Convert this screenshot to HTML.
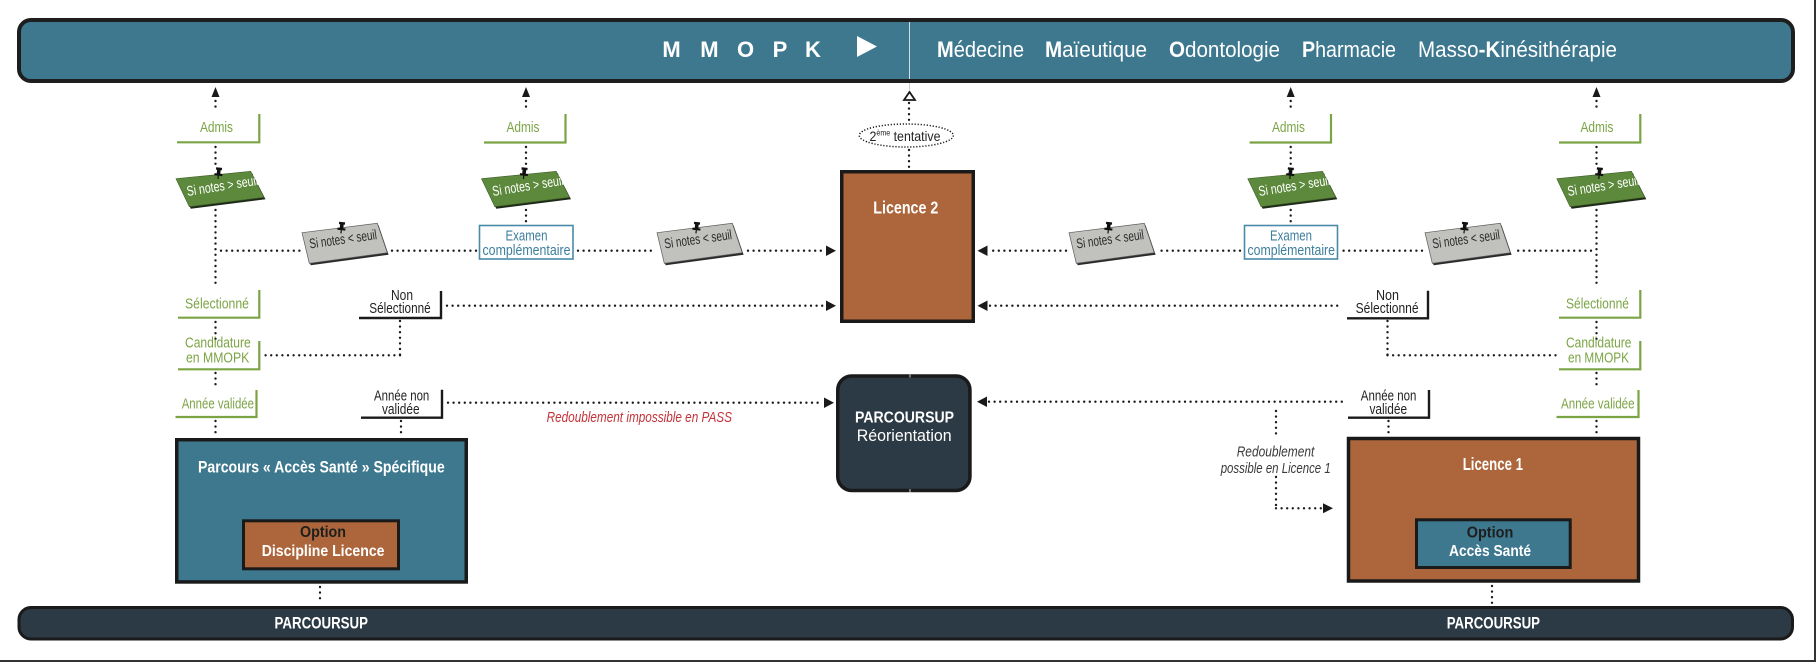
<!DOCTYPE html>
<html><head><meta charset="utf-8"><style>
html,body{margin:0;padding:0;background:#fff;}
svg{display:block;}
text{font-family:"Liberation Sans",sans-serif;}
.d{stroke:#1a1a1a;stroke-width:2.4;stroke-linecap:round;stroke-dasharray:0 5.6;fill:none}
.gl{stroke:#7ba445;stroke-width:2.2;fill:none}
.bl{stroke:#1a1a1a;stroke-width:2.4;fill:none}
.gt{fill:#7ba445;font-size:15px}
.bt{fill:#222;font-size:15px}
.et{fill:#3c7e9c;font-size:15px}
.w{fill:#fff}
.wb{fill:#fff;font-weight:bold}
</style></head><body>
<svg width="1816" height="662" viewBox="0 0 1816 662" xmlns="http://www.w3.org/2000/svg">
<rect x="0" y="0" width="1816" height="662" fill="#fff"/>
<!-- frame -->
<rect x="1814" y="0" width="2" height="662" fill="#333"/>
<rect x="0" y="660" width="1816" height="2" fill="#333"/>

<!-- TOP BAR -->
<rect x="19" y="20" width="1774" height="61" rx="12" fill="#3e788f" stroke="#1e1e1e" stroke-width="4"/>
<line x1="909.5" y1="22" x2="909.5" y2="79" stroke="#d5dde0" stroke-width="1"/>
<g class="wb" font-size="22" text-anchor="middle">
<text x="671.5" y="57" class="wb">M</text>
<text x="709.4" y="57" class="wb">M</text>
<text x="745.5" y="57" class="wb">O</text>
<text x="780" y="57" class="wb">P</text>
<text x="813" y="57" class="wb">K</text>
</g>
<polygon points="857,36 877,46.5 857,57" fill="#fff"/>
<g class="w" font-size="22">
<text x="937" y="57" class="w" textLength="87" lengthAdjust="spacingAndGlyphs"><tspan font-weight="bold">M</tspan>édecine</text>
<text x="1045" y="57" class="w" textLength="102" lengthAdjust="spacingAndGlyphs"><tspan font-weight="bold">M</tspan>aïeutique</text>
<text x="1169" y="57" class="w" textLength="111" lengthAdjust="spacingAndGlyphs"><tspan font-weight="bold">O</tspan>dontologie</text>
<text x="1302" y="57" class="w" textLength="94" lengthAdjust="spacingAndGlyphs"><tspan font-weight="bold">P</tspan>harmacie</text>
<text x="1418" y="57" class="w" textLength="199" lengthAdjust="spacingAndGlyphs">Masso<tspan font-weight="bold">-K</tspan>inésithérapie</text>
</g>

<!-- BOTTOM BAR -->
<rect x="19" y="607.5" width="1773.5" height="31.5" rx="12" fill="#2c3a45" stroke="#1a1a1a" stroke-width="3"/>
<text x="274.5" y="628.3" class="wb" font-size="16.5" textLength="93.5" lengthAdjust="spacingAndGlyphs">PARCOURSUP</text>
<text x="1446.7" y="628.3" class="wb" font-size="16.5" textLength="93.3" lengthAdjust="spacingAndGlyphs">PARCOURSUP</text>

<!-- ARROW HEADS UP -->
<g fill="#1a1a1a">
<polygon points="211.5,97 219.5,97 215.5,87"/>
<polygon points="522,97 530,97 526,87"/>
<polygon points="1286.7,97 1294.7,97 1290.7,87"/>
<polygon points="1592.5,97 1600.5,97 1596.5,87"/>
</g>

<!-- VERTICAL DOTTED LINES -->
<g class="d">
<line x1="215.5" y1="101" x2="215.5" y2="112"/>
<line x1="215.5" y1="147" x2="215.5" y2="166"/>
<line x1="215.5" y1="210" x2="215.5" y2="288"/>
<line x1="215.5" y1="322" x2="215.5" y2="339"/>
<line x1="215.5" y1="373" x2="215.5" y2="388"/>
<line x1="215.5" y1="421" x2="215.5" y2="437"/>

<line x1="526" y1="101" x2="526" y2="112"/>
<line x1="526" y1="147" x2="526" y2="166"/>
<line x1="526" y1="210" x2="526" y2="223"/>

<line x1="1290.7" y1="101" x2="1290.7" y2="112"/>
<line x1="1290.7" y1="147" x2="1290.7" y2="166"/>
<line x1="1290.7" y1="210" x2="1290.7" y2="223"/>

<line x1="1596.5" y1="101" x2="1596.5" y2="112"/>
<line x1="1596.5" y1="147" x2="1596.5" y2="166"/>
<line x1="1596.5" y1="210" x2="1596.5" y2="288"/>
<line x1="1596.5" y1="322" x2="1596.5" y2="339"/>
<line x1="1596.5" y1="373" x2="1596.5" y2="388"/>
<line x1="1596.5" y1="421" x2="1596.5" y2="437"/>

<!-- center -->
<line x1="909" y1="103" x2="909" y2="123"/>
<line x1="909" y1="150" x2="909" y2="169"/>

<!-- horizontal y=250.7 left -->
<line x1="221" y1="250.7" x2="300" y2="250.7"/>
<line x1="392" y1="250.7" x2="476" y2="250.7"/>
<line x1="578" y1="250.7" x2="654" y2="250.7"/>
<line x1="748" y1="250.7" x2="824" y2="250.7"/>
<!-- right -->
<line x1="1591" y1="250.7" x2="1513" y2="250.7"/>
<line x1="1422" y1="250.7" x2="1341" y2="250.7"/>
<line x1="1240" y1="250.7" x2="1158" y2="250.7"/>
<line x1="1066" y1="250.7" x2="990" y2="250.7"/>

<!-- non selectionne -->
<line x1="447" y1="305.7" x2="824" y2="305.7"/>
<line x1="400" y1="321" x2="400" y2="355.3"/>
<line x1="400" y1="355.3" x2="264" y2="355.3"/>
<line x1="990" y1="305.7" x2="1342" y2="305.7"/>
<line x1="1387.5" y1="321" x2="1387.5" y2="355.3"/>
<line x1="1387.5" y1="355.3" x2="1557" y2="355.3"/>

<!-- annee non validee -->
<line x1="448" y1="402.7" x2="822" y2="402.7"/>
<line x1="401" y1="421" x2="401" y2="437"/>
<line x1="989" y1="401.7" x2="1343" y2="401.7"/>
<line x1="1388.5" y1="421" x2="1388.5" y2="436"/>

<!-- redoublement -->
<line x1="1276" y1="411" x2="1276" y2="437"/>
<line x1="1276" y1="477" x2="1276" y2="508.3"/>
<line x1="1276" y1="508.3" x2="1321" y2="508.3"/>

<!-- to bottom bar -->
<line x1="320" y1="587" x2="320" y2="603"/>
<line x1="1492" y1="586" x2="1492" y2="603"/>
</g>

<!-- horizontal arrowheads -->
<g fill="#1a1a1a">
<polygon points="826,245.5 836,250.7 826,256"/>
<polygon points="987.5,245.5 977.5,250.7 987.5,256"/>
<polygon points="826,300.5 836,305.7 826,311"/>
<polygon points="987.5,300.5 977.5,305.7 987.5,311"/>
<polygon points="824,397.5 834,402.7 824,408"/>
<polygon points="987,396.5 977,401.7 987,407"/>
<polygon points="1323,503.3 1333,508.3 1323,513.3"/>
</g>

<!-- GREEN L LABELS -->
<g class="gl">
<polyline points="177,142.3 259.3,142.3 259.3,114"/>
<polyline points="484,142.5 565.5,142.5 565.5,114"/>
<polyline points="1249.6,142.5 1331,142.5 1331,114"/>
<polyline points="1559,142.5 1640.3,142.5 1640.3,114"/>
<polyline points="178,317.7 259.3,317.7 259.3,290"/>
<polyline points="1559,317.7 1640.3,317.7 1640.3,290"/>
<polyline points="178,369.3 259.3,369.3 259.3,341"/>
<polyline points="1559,369.3 1640.3,369.3 1640.3,341"/>
<polyline points="175.5,417 256.5,417 256.5,390"/>
<polyline points="1556.5,417 1638.5,417 1638.5,390"/>
</g>
<text x="200" y="132" class="gt" textLength="33" lengthAdjust="spacingAndGlyphs">Admis</text>
<text x="506.5" y="132" class="gt" textLength="33" lengthAdjust="spacingAndGlyphs">Admis</text>
<text x="1272" y="132" class="gt" textLength="33" lengthAdjust="spacingAndGlyphs">Admis</text>
<text x="1580.5" y="132" class="gt" textLength="33" lengthAdjust="spacingAndGlyphs">Admis</text>
<text x="185" y="308.5" class="gt" textLength="64" lengthAdjust="spacingAndGlyphs">Sélectionné</text>
<text x="1566" y="308.5" class="gt" textLength="63" lengthAdjust="spacingAndGlyphs">Sélectionné</text>
<text x="185" y="347.5" class="gt" textLength="65.7" lengthAdjust="spacingAndGlyphs">Candidature</text>
<text x="186" y="362.5" class="gt" textLength="63.3" lengthAdjust="spacingAndGlyphs">en MMOPK</text>
<text x="1566" y="347.5" class="gt" textLength="65.5" lengthAdjust="spacingAndGlyphs">Candidature</text>
<text x="1568" y="362.5" class="gt" textLength="61" lengthAdjust="spacingAndGlyphs">en MMOPK</text>
<text x="181.7" y="408.5" class="gt" textLength="72.3" lengthAdjust="spacingAndGlyphs">Année validée</text>
<text x="1561" y="408.5" class="gt" textLength="73.6" lengthAdjust="spacingAndGlyphs">Année validée</text>

<!-- BLACK L LABELS -->
<g class="bl">
<polyline points="359,318 441,318 441,291"/>
<polyline points="1347,318.3 1428,318.3 1428,290.7"/>
<polyline points="361,417.7 442,417.7 442,389.7"/>
<polyline points="1348,417.7 1429,417.7 1429,390"/>
</g>
<text x="391" y="300" class="bt" textLength="22" lengthAdjust="spacingAndGlyphs">Non</text>
<text x="369.3" y="313" class="bt" textLength="61.4" lengthAdjust="spacingAndGlyphs">Sélectionné</text>
<text x="1376" y="300" class="bt" textLength="23" lengthAdjust="spacingAndGlyphs">Non</text>
<text x="1355.6" y="313" class="bt" textLength="63" lengthAdjust="spacingAndGlyphs">Sélectionné</text>
<text x="374" y="400.3" class="bt" textLength="55.3" lengthAdjust="spacingAndGlyphs">Année non</text>
<text x="382" y="414" class="bt" textLength="37.6" lengthAdjust="spacingAndGlyphs">validée</text>
<text x="1360.8" y="400.3" class="bt" textLength="55.6" lengthAdjust="spacingAndGlyphs">Année non</text>
<text x="1369.5" y="414" class="bt" textLength="37.6" lengthAdjust="spacingAndGlyphs">validée</text>

<!-- EXAMEN BOXES -->
<rect x="479.5" y="225.5" width="93.5" height="33.5" fill="#fff" stroke="#4a8aa8" stroke-width="1.6"/>
<text x="505.5" y="240.5" class="et" textLength="42" lengthAdjust="spacingAndGlyphs">Examen</text>
<text x="482.5" y="255" class="et" textLength="88" lengthAdjust="spacingAndGlyphs">complémentaire</text>
<rect x="1244.5" y="225.5" width="93" height="33.5" fill="#fff" stroke="#4a8aa8" stroke-width="1.6"/>
<text x="1270" y="240.5" class="et" textLength="42" lengthAdjust="spacingAndGlyphs">Examen</text>
<text x="1247.5" y="255" class="et" textLength="87.5" lengthAdjust="spacingAndGlyphs">complémentaire</text>

<!-- GREEN NOTES -->
<g>
<polygon points="177.5,180.7 252.2,173.3 265.5,199.3 190.8,208.7" fill="#1f2a18"/>
<polygon points="176,178.7 250.7,171.3 264,197.3 189.3,206.7" fill="#5c893b" stroke="#3e5f27" stroke-width="0.6"/>
<text x="187.5" y="196" class="w" font-size="14" transform="rotate(-9 187.5 196)" textLength="72" lengthAdjust="spacingAndGlyphs">Si notes &gt; seuil</text>
<g transform="translate(218 178.5) rotate(6)" fill="#111"><rect x="-3" y="-11" width="6" height="2.4"/><rect x="-1.8" y="-9" width="3.6" height="4.5"/><rect x="-4" y="-5" width="8" height="2.2"/><rect x="-0.6" y="-3" width="1.2" height="3.5"/></g>
</g>
<g transform="translate(305.5 0)">
<polygon points="177.5,180.7 252.2,173.3 265.5,199.3 190.8,208.7" fill="#1f2a18"/>
<polygon points="176,178.7 250.7,171.3 264,197.3 189.3,206.7" fill="#5c893b" stroke="#3e5f27" stroke-width="0.6"/>
<text x="187.5" y="196" class="w" font-size="14" transform="rotate(-9 187.5 196)" textLength="72" lengthAdjust="spacingAndGlyphs">Si notes &gt; seuil</text>
<g transform="translate(218 178.5) rotate(6)" fill="#111"><rect x="-3" y="-11" width="6" height="2.4"/><rect x="-1.8" y="-9" width="3.6" height="4.5"/><rect x="-4" y="-5" width="8" height="2.2"/><rect x="-0.6" y="-3" width="1.2" height="3.5"/></g>
</g>
<g transform="translate(1071.8 0)">
<polygon points="177.5,180.7 252.2,173.3 265.5,199.3 190.8,208.7" fill="#1f2a18"/>
<polygon points="176,178.7 250.7,171.3 264,197.3 189.3,206.7" fill="#5c893b" stroke="#3e5f27" stroke-width="0.6"/>
<text x="187.5" y="196" class="w" font-size="14" transform="rotate(-9 187.5 196)" textLength="72" lengthAdjust="spacingAndGlyphs">Si notes &gt; seuil</text>
<g transform="translate(218 178.5) rotate(6)" fill="#111"><rect x="-3" y="-11" width="6" height="2.4"/><rect x="-1.8" y="-9" width="3.6" height="4.5"/><rect x="-4" y="-5" width="8" height="2.2"/><rect x="-0.6" y="-3" width="1.2" height="3.5"/></g>
</g>
<g transform="translate(1380.8 0)">
<polygon points="177.5,180.7 252.2,173.3 265.5,199.3 190.8,208.7" fill="#1f2a18"/>
<polygon points="176,178.7 250.7,171.3 264,197.3 189.3,206.7" fill="#5c893b" stroke="#3e5f27" stroke-width="0.6"/>
<text x="187.5" y="196" class="w" font-size="14" transform="rotate(-9 187.5 196)" textLength="72" lengthAdjust="spacingAndGlyphs">Si notes &gt; seuil</text>
<g transform="translate(218 178.5) rotate(6)" fill="#111"><rect x="-3" y="-11" width="6" height="2.4"/><rect x="-1.8" y="-9" width="3.6" height="4.5"/><rect x="-4" y="-5" width="8" height="2.2"/><rect x="-0.6" y="-3" width="1.2" height="3.5"/></g>
</g>

<!-- GRAY NOTES -->
<g>
<polygon points="303.3,234.7 378.6,225.3 388.6,254.7 310.6,265.3" fill="#2a2a2a"/>
<polygon points="302,232.7 377.3,223.3 387.3,252.7 309.3,263.3" fill="#c1c1be" stroke="#5a5a5a" stroke-width="0.7"/>
<text x="310" y="248.5" fill="#2a2a2a" font-size="14" transform="rotate(-8 310 248.5)" textLength="68" lengthAdjust="spacingAndGlyphs">Si notes &lt; seuil</text>
<g transform="translate(341 233) rotate(6)" fill="#111"><rect x="-3" y="-11" width="6" height="2.4"/><rect x="-1.8" y="-9" width="3.6" height="4.5"/><rect x="-4" y="-5" width="8" height="2.2"/><rect x="-0.6" y="-3" width="1.2" height="3.5"/></g>
</g>
<g transform="translate(355 0)">
<polygon points="303.3,234.7 378.6,225.3 388.6,254.7 310.6,265.3" fill="#2a2a2a"/>
<polygon points="302,232.7 377.3,223.3 387.3,252.7 309.3,263.3" fill="#c1c1be" stroke="#5a5a5a" stroke-width="0.7"/>
<text x="310" y="248.5" fill="#2a2a2a" font-size="14" transform="rotate(-8 310 248.5)" textLength="68" lengthAdjust="spacingAndGlyphs">Si notes &lt; seuil</text>
<g transform="translate(341 233) rotate(6)" fill="#111"><rect x="-3" y="-11" width="6" height="2.4"/><rect x="-1.8" y="-9" width="3.6" height="4.5"/><rect x="-4" y="-5" width="8" height="2.2"/><rect x="-0.6" y="-3" width="1.2" height="3.5"/></g>
</g>
<g transform="translate(767 0)">
<polygon points="303.3,234.7 378.6,225.3 388.6,254.7 310.6,265.3" fill="#2a2a2a"/>
<polygon points="302,232.7 377.3,223.3 387.3,252.7 309.3,263.3" fill="#c1c1be" stroke="#5a5a5a" stroke-width="0.7"/>
<text x="310" y="248.5" fill="#2a2a2a" font-size="14" transform="rotate(-8 310 248.5)" textLength="68" lengthAdjust="spacingAndGlyphs">Si notes &lt; seuil</text>
<g transform="translate(341 233) rotate(6)" fill="#111"><rect x="-3" y="-11" width="6" height="2.4"/><rect x="-1.8" y="-9" width="3.6" height="4.5"/><rect x="-4" y="-5" width="8" height="2.2"/><rect x="-0.6" y="-3" width="1.2" height="3.5"/></g>
</g>
<g transform="translate(1123 0)">
<polygon points="303.3,234.7 378.6,225.3 388.6,254.7 310.6,265.3" fill="#2a2a2a"/>
<polygon points="302,232.7 377.3,223.3 387.3,252.7 309.3,263.3" fill="#c1c1be" stroke="#5a5a5a" stroke-width="0.7"/>
<text x="310" y="248.5" fill="#2a2a2a" font-size="14" transform="rotate(-8 310 248.5)" textLength="68" lengthAdjust="spacingAndGlyphs">Si notes &lt; seuil</text>
<g transform="translate(341 233) rotate(6)" fill="#111"><rect x="-3" y="-11" width="6" height="2.4"/><rect x="-1.8" y="-9" width="3.6" height="4.5"/><rect x="-4" y="-5" width="8" height="2.2"/><rect x="-0.6" y="-3" width="1.2" height="3.5"/></g>
</g>

<!-- CENTER: hollow arrow + ellipse -->
<polygon points="904,100 915,100 909.5,92" fill="#fff" stroke="#1a1a1a" stroke-width="1.8" stroke-linejoin="miter"/>
<line x1="909.5" y1="83" x2="909.5" y2="91" stroke="#c9cfd2" stroke-width="1"/>
<ellipse cx="906.3" cy="135.5" rx="47" ry="11.5" fill="#fff" stroke="#1a1a1a" stroke-width="1.5" stroke-dasharray="1.2 1.8"/>
<text x="869.5" y="140.8" fill="#222" font-size="14" textLength="71" lengthAdjust="spacingAndGlyphs">2<tspan font-size="8" dy="-5.5">ème</tspan><tspan dy="5.5"> tentative</tspan></text>

<!-- LICENCE 2 -->
<rect x="841.75" y="171.75" width="131.5" height="149.5" fill="#ad663b" stroke="#1a1a1a" stroke-width="3.5"/>
<text x="873.3" y="213.3" class="wb" font-size="17.5" textLength="65" lengthAdjust="spacingAndGlyphs">Licence 2</text>

<!-- PARCOURSUP REORIENTATION -->
<rect x="837.75" y="376" width="132.2" height="114.5" rx="14" fill="#2c3a45" stroke="#1a1a1a" stroke-width="3.5"/>
<line x1="910" y1="374.5" x2="910" y2="377.5" stroke="#c9cfd2" stroke-width="1"/>
<line x1="910" y1="489" x2="910" y2="492.5" stroke="#c9cfd2" stroke-width="1"/>
<text x="855" y="422.3" class="wb" font-size="16" textLength="99" lengthAdjust="spacingAndGlyphs">PARCOURSUP</text>
<text x="856.7" y="441" class="w" font-size="16.5" textLength="95" lengthAdjust="spacingAndGlyphs">Réorientation</text>

<!-- RED TEXT -->
<text x="546.6" y="422" fill="#c4323a" font-size="14.5" font-style="italic" textLength="185.4" lengthAdjust="spacingAndGlyphs">Redoublement impossible en PASS</text>

<!-- REDOUBLEMENT TEXT -->
<text x="1236.7" y="456.5" fill="#3a3a3a" font-size="14.5" font-style="italic" textLength="77.6" lengthAdjust="spacingAndGlyphs">Redoublement</text>
<text x="1220.7" y="473" fill="#3a3a3a" font-size="14.5" font-style="italic" textLength="110" lengthAdjust="spacingAndGlyphs">possible en Licence 1</text>

<!-- PASS BOX -->
<rect x="176.75" y="439.75" width="289.5" height="142.2" fill="#3e788f" stroke="#1a1a1a" stroke-width="3.5"/>
<text x="198" y="472.5" class="wb" font-size="17" textLength="246.7" lengthAdjust="spacingAndGlyphs">Parcours « Accès Santé » Spécifique</text>
<rect x="243.5" y="520.8" width="155" height="48" fill="#ad663b" stroke="#1a1a1a" stroke-width="3"/>
<text x="300" y="537" fill="#1e1e1e" font-weight="bold" font-size="16" textLength="46" lengthAdjust="spacingAndGlyphs">Option</text>
<text x="261.7" y="556" class="wb" font-size="16" textLength="122.8" lengthAdjust="spacingAndGlyphs">Discipline Licence</text>

<!-- LICENCE 1 BOX -->
<rect x="1348.5" y="438.5" width="290" height="142.5" fill="#ad663b" stroke="#1a1a1a" stroke-width="3.5"/>
<text x="1462.7" y="470" class="wb" font-size="17.5" textLength="60.3" lengthAdjust="spacingAndGlyphs">Licence 1</text>
<rect x="1416.5" y="519.8" width="153.7" height="47.7" fill="#3e788f" stroke="#1a1a1a" stroke-width="3"/>
<text x="1466.7" y="537.3" fill="#1e1e1e" font-weight="bold" font-size="16" textLength="46.6" lengthAdjust="spacingAndGlyphs">Option</text>
<text x="1449" y="556" class="wb" font-size="16" textLength="82" lengthAdjust="spacingAndGlyphs">Accès Santé</text>
</svg>
</body></html>
